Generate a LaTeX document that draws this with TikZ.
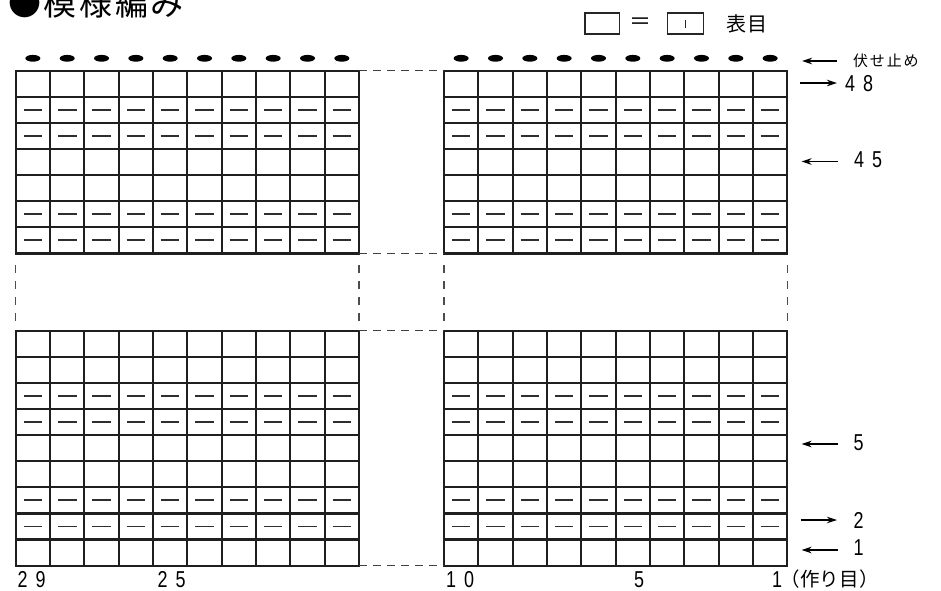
\documentclass[tikz,border=0pt]{standalone}
\usepackage{fontspec}
\setmainfont{Liberation Sans}
\newfontfamily\jp{Noto Sans CJK JP}
\newfontfamily\numfont[LetterSpace=45]{Liberation Sans}
\usetikzlibrary{arrows.meta}
\newcommand\dnum[1]{\scalebox{0.78}[1]{\fontsize{23}{23}\numfont #1}}
\begin{document}
\begin{tikzpicture}[x=1pt,y=-1pt,
  gridline/.style={line width=2.2pt, draw=black!88, line cap=rect},
  dashmark/.style={line width=1.8pt, draw=black!82},
  gapline/.style={line width=1.4pt, draw=black!75, dash pattern=on 8pt off 6pt},
  gapvline/.style={line width=1.4pt, draw=black!70, dash pattern=on 8pt off 8pt},
  legbox/.style={line width=1.5pt, draw=black!85},
  lbl/.style={inner sep=0pt, anchor=west},
  arr/.style={-{Stealth[length=10pt,width=6.5pt]}, line width=1.3pt}
]
\useasboundingbox (0,0) rectangle (941,590);

% title
\node[inner sep=0pt, anchor=base west] (title) at (8,15.5)
  {\jp\fontsize{33}{33}\selectfont\addfontfeature{LetterSpace=8}●模様編み};

% legend
\draw[legbox] (585,13) rectangle (619.3,34);
\node[inner sep=0pt] (eq) at (640,23.5) {\jp\fontsize{22}{22}\selectfont ＝};
\draw[legbox] (667.7,13) rectangle (703.3,34);
\draw[line width=1.4pt, draw=black!85] (685.5,19.5) -- (685.5,28);
\node[lbl] (omote) at (726,23.5) {\jp\fontsize{20}{20}\selectfont\addfontfeature{LetterSpace=5}表目};

% grids
\foreach \gx in {15.7,444} {
  % top grid: 7 rows
  \foreach \i in {0,...,10}
    \draw[gridline] (\gx+\i*34.33,70.7) -- ++(0,182.7);
  \foreach \j in {0,...,7}
    \draw[gridline] (\gx,70.7+\j*26.1) -- ++(343.3,0);
  % bottom grid: 9 rows
  \foreach \i in {0,...,10}
    \draw[gridline] (\gx+\i*34.33,330.7) -- ++(0,234.9);
  \foreach \j in {0,...,9}
    \draw[gridline] (\gx,330.7+\j*26.1) -- ++(343.3,0);
  % purl dashes
  \foreach \i in {0,...,9} {
    \foreach \r in {2,3,6,7}
      \draw[dashmark] (\gx+\i*34.33+17.17-9.3,70.7+\r*26.1-13.05) -- ++(18.6,0);
    \foreach \r in {3,4,7,8}
      \draw[dashmark] (\gx+\i*34.33+17.17-9.3,330.7+\r*26.1-13.05) -- ++(18.6,0);
    % bind-off marks
    \fill[black] (\gx+\i*34.33+17.17,58.3) ellipse [x radius=7.5, y radius=3.4];
  }
}

% gap lines
\foreach \yy in {70.7,253.3,330.7,565.6}
  \draw[gapline] (358.9,\yy) -- (444,\yy);
\foreach \xx in {15.7,358.9,444,787.3}
  \draw[gapvline] (\xx,265) -- (\xx,321);

% right labels and arrows
\node[lbl] (fuse) at (853,61) {\jp\fontsize{15}{15}\selectfont\addfontfeature{LetterSpace=12}伏せ止め};
\coordinate (fuseA) at (837,61); \coordinate (fuseB) at (802,61);
\draw[arr] (fuseA) -- (fuseB);

\node[lbl] (r48) at (845,84) {\dnum{48}};
\coordinate (r48A) at (800,83); \coordinate (r48B) at (837,83);
\draw[arr] (r48A) -- (r48B);

\node[lbl] (r45) at (854,160) {\dnum{45}};
\coordinate (r45A) at (838,161.5); \coordinate (r45B) at (801.5,161.5);
\draw[arr] (r45A) -- (r45B);

\node[lbl] (r5) at (853.5,443) {\dnum{5}};
\coordinate (r5A) at (838,444); \coordinate (r5B) at (801.5,444);
\draw[arr] (r5A) -- (r5B);

\node[lbl] (r2) at (853.5,520) {\dnum{2}};
\coordinate (r2A) at (800.5,520); \coordinate (r2B) at (837,520);
\draw[arr] (r2A) -- (r2B);

\node[lbl] (r1) at (853.5,548) {\dnum{1}};
\coordinate (r1A) at (838,550); \coordinate (r1B) at (801.5,550);
\draw[arr] (r1A) -- (r1B);

% bottom column numbers
\node[lbl] (c29) at (17.5,579.5) {\dnum{29}};
\node[lbl] (c25) at (157.5,579.5) {\dnum{25}};
\node[lbl] (c10) at (446,579.5) {\dnum{10}};
\node[lbl] (c5) at (634,579.5) {\dnum{5}};
\node[lbl] (c1) at (772,579.5) {\dnum{1}};
\node[lbl] (tsukuri) at (780,579.5) {\jp\fontsize{19.5}{19.5}\selectfont\addfontfeature{LetterSpace=2}（作り目）};
\end{tikzpicture}
\end{document}
